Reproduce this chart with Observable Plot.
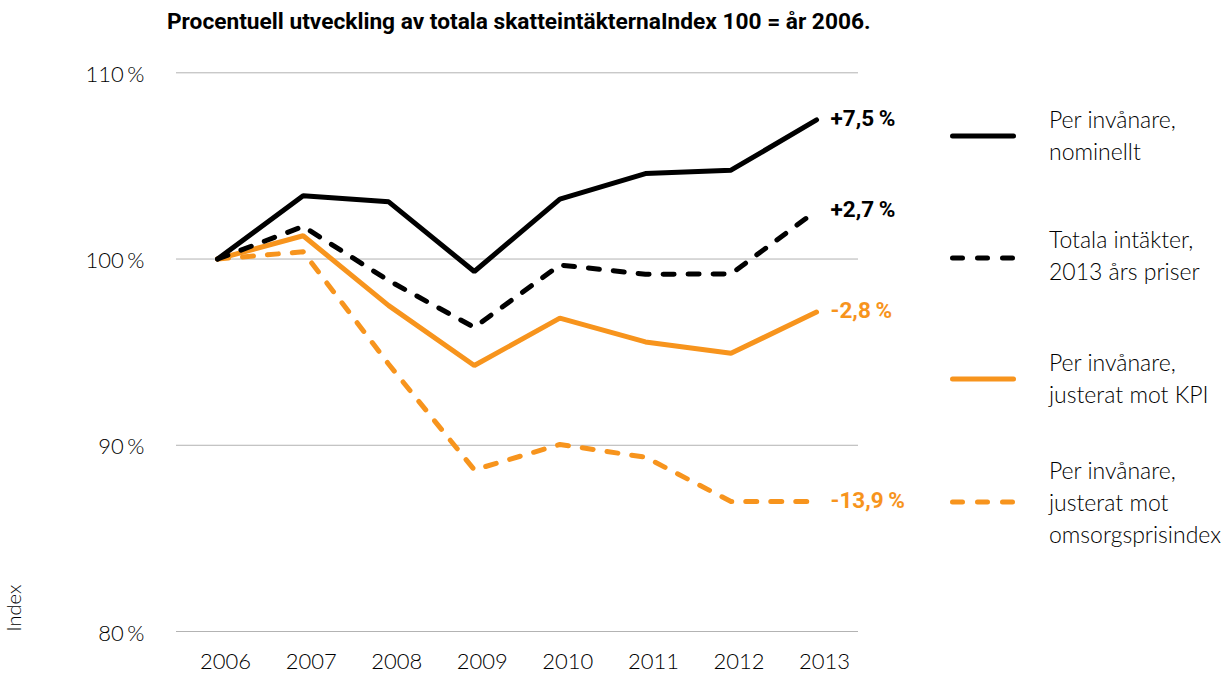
<!DOCTYPE html>
<html>
<head>
<meta charset="utf-8">
<script src="https://cdn.jsdelivr.net/npm/d3@7"></script>
<script src="https://cdn.jsdelivr.net/npm/@observablehq/plot@0.6"></script>
<style>
  html, body { margin: 0; padding: 0; background: #fff; }
  #wrap { position: relative; width: 1222px; height: 673px; overflow: hidden; }
  #title { height: 44px; line-height: 44px; padding-left: 167px; font-family: "Roboto", sans-serif; font-weight: bold; font-size: 22.7px; color: #000; white-space: nowrap; }
  .leg { position: absolute; font-family: "Lato", sans-serif; font-weight: 300; font-size: 23px; line-height: 32px; color: #000; white-space: nowrap; }
  .sample { position: absolute; }
</style>
</head>
<body>
<div id="wrap">
  <div id="title"></div>
  <div id="chart"></div>
</div>
<script>
const titleText = "Procentuell utveckling av totala skatteintäkternaIndex 100 = år 2006.";
const years = [2006, 2007, 2008, 2009, 2010, 2011, 2012, 2013];
const seriesNames = ["Per invånare, nominellt", "Totala intäkter, 2013 års priser", "Per invånare, justerat mot KPI", "Per invånare, justerat mot omsorgsprisindex"];
const legendLines = [["Per invånare,", "nominellt"], ["Totala intäkter,", "2013 års priser"], ["Per invånare,", "justerat mot KPI"], ["Per invånare,", "justerat mot", "omsorgsprisindex"]];
const nominellt = [100, 103.40, 103.07, 99.33, 103.22, 104.59, 104.77, 107.47];
const totala    = [100, 101.75, 98.84, 96.33, 99.68, 99.18, 99.20, 102.60];
const kpi       = [100, 101.25, 97.50, 94.28, 96.83, 95.55, 94.94, 97.15];
const omsorg    = [100, 100.39, 94.35, 88.68, 90.04, 89.36, 86.98, 86.98];
const endLabels = ["+7,5\u2009%", "+2,7\u2009%", "-2,8\u2009%", "-13,9\u2009%"];
const yTicks = [80, 90, 100, 110];
const colors = ["#000000", "#000000", "#F7941D", "#F7941D"];
const dashed = [false, true, false, true];

document.getElementById("title").textContent = titleText;

const allValues = [nominellt, totala, kpi, omsorg];
const rows = [];
allValues.forEach((vals, si) => vals.forEach((v, i) => rows.push({series: seriesNames[si], si, year: years[i], value: v})));
const lastRows = allValues.map((vals, si) => ({series: seriesNames[si], si, year: years[years.length - 1], value: vals[vals.length - 1], label: endLabels[si]}));

const drawOrder = [3, 2, 1, 0];
const lineMarks = drawOrder.map(si => Plot.line(rows.filter(r => r.si === si), {
  x: "year", y: "value",
  stroke: colors[si], strokeWidth: 5,
  strokeDasharray: dashed[si] ? "11,14" : null,
  strokeLinecap: "round", strokeLinejoin: dashed[si] ? "round" : "miter"
}));

const chart = Plot.plot({
  width: 1222,
  height: 629,
  marginLeft: 176,
  marginRight: 364,
  marginTop: 28.3,
  marginBottom: 42,
  style: {fontFamily: "Lato, sans-serif", background: "transparent"},
  x: {domain: [2005.52, 2013.49], label: null},
  y: {domain: [80, 110], label: null},
  marks: [
    Plot.ruleY(yTicks, {stroke: "#b3b3b3", strokeWidth: 1}),
    Plot.axisY({ticks: yTicks, tickFormat: d => d + "\u2006%", tickSize: 0, tickPadding: 32, dy: 2, fontSize: 22, fontWeight: 300, fill: "#000", label: null}),
    Plot.axisX({ticks: years, tickFormat: d => String(d), tickSize: 0, tickPadding: 22, dx: 8, fontSize: 22, fontWeight: 300, fill: "#000", label: null}),
    Plot.text(["Index"], {frameAnchor: "bottom-left", rotate: -90, textAnchor: "start", dx: -156, fontSize: 20, fontWeight: 300, fill: "#000"}),
    ...lineMarks,
    Plot.text(lastRows, {x: "year", y: "value", text: "label", fill: d => colors[d.si], textAnchor: "start", dx: 14, dy: -1, fontSize: 22.5, fontWeight: "bold", fontFamily: "Roboto, sans-serif"})
  ]
});
document.getElementById("chart").appendChild(chart);

// legend (HTML overlay)
const wrap = document.getElementById("wrap");
const sampleY = [135.7, 257.7, 379, 501.7];
const textTop = [103, 223, 346, 454];
legendLines.forEach((lines, si) => {
  const ns = "http://www.w3.org/2000/svg";
  const svg = document.createElementNS(ns, "svg");
  svg.setAttribute("class", "sample");
  svg.setAttribute("width", 80); svg.setAttribute("height", 12);
  svg.style.left = "945px"; svg.style.top = (sampleY[si] - 6) + "px";
  const ln = document.createElementNS(ns, "line");
  ln.setAttribute("x1", 7.5); ln.setAttribute("x2", 68.5);
  ln.setAttribute("y1", 6); ln.setAttribute("y2", 6);
  ln.setAttribute("stroke", colors[si]); ln.setAttribute("stroke-width", 5);
  ln.setAttribute("stroke-linecap", "round");
  if (dashed[si]) ln.setAttribute("stroke-dasharray", "10,15");
  svg.appendChild(ln);
  wrap.appendChild(svg);
  const div = document.createElement("div");
  div.className = "leg";
  div.style.left = "1049px"; div.style.top = textTop[si] + "px";
  div.innerHTML = lines.join("<br>");
  wrap.appendChild(div);
});
</script>
</body>
</html>
